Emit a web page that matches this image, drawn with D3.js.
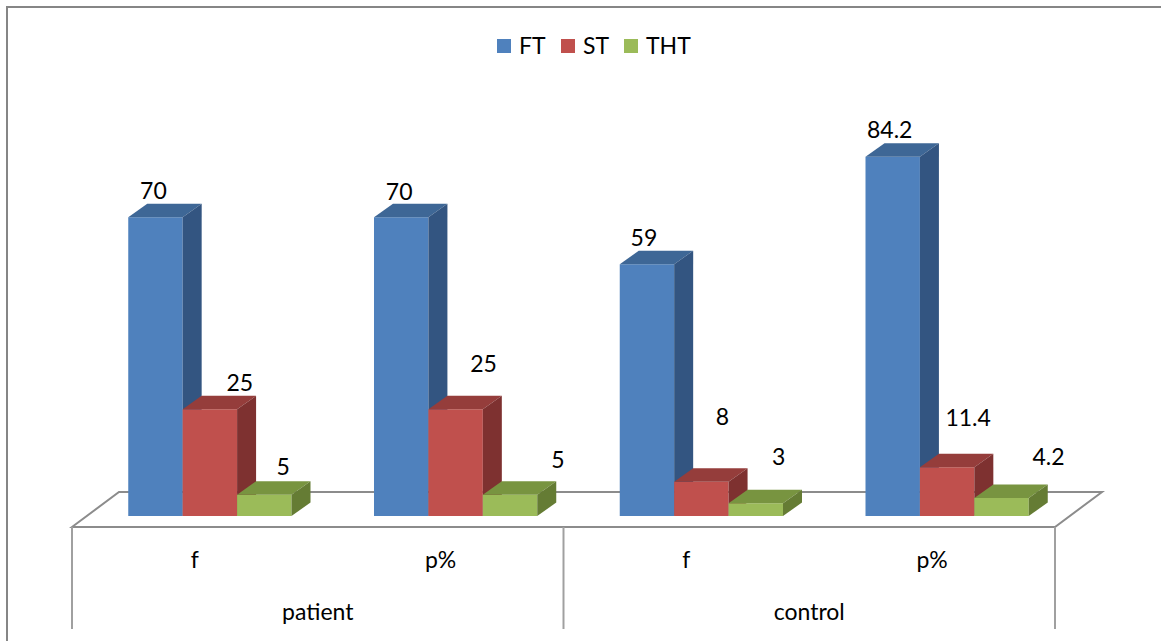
<!DOCTYPE html>
<html lang="en">
  <head>
    <meta charset="utf-8" />
    <title>FT / ST / THT by group</title>
    <script src="https://cdnjs.cloudflare.com/ajax/libs/d3/7.8.5/d3.min.js"></script>
    <style type="text/css">
      body { margin: 0; background: #fff; }
      svg text { font-family: Lato, "Open Sans", sans-serif; fill: #000; }
      .frame { fill: none; stroke: #868686; stroke-width: 2; }
      .floor { fill: none; stroke: #8c8c8c; stroke-width: 2; }
      .sep { stroke: #a0a0a0; stroke-width: 2; }
    </style>
  </head>

  <body>
    <div id="chart"></div>

    <script>
      // Data.
      const groups = ['patient', 'control'];
      const categories = ['f', 'p%', 'f', 'p%'];
      const series = ['FT', 'ST', 'THT'];
      const ftValues = [70, 70, 59, 84.2];
      const stValues = [25, 25, 8, 11.4];
      const thtValues = [5, 5, 3, 4.2];

      const seriesValues = [ftValues, stValues, thtValues];

      // Colours: front, top, side.
      const colors = {
        FT:  ['#4f81bd', '#3e6796', '#335581'],
        ST:  ['#c0504d', '#953d3b', '#7e3130'],
        THT: ['#9bbb59', '#789440', '#657c34']
      };

      // Excel puts the value labels a little irregularly; offsets from the bar's front-top centre.
      const labelOffsets = {
        FT:  [[-2, -27], [-2, -26], [-3, -27], [-3, -27]],
        ST:  [[30, -27], [28, -46], [21, -65], [21, -50]],
        THT: [[19, -28], [48, -35], [23, -46], [47, -41]]
      };

      const width = 1161;
      const height = 641;
      const floorLeft = 72;
      const floorRight = 1055;
      const floorFront = 527;
      const floorDepth = [47, -35];   // floor depth vector
      const barFront = [15, -11];     // bars start this far into the floor
      const barDepth = [19, -13.5];   // bar depth vector

      const svg = d3.select('#chart').append('svg')
        .attr('width', width)
        .attr('height', height);

      // Outer frame (runs off the right and bottom of the picture).
      svg.append('rect')
        .attr('class', 'frame')
        .attr('x', 7).attr('y', 7)
        .attr('width', width).attr('height', height);

      // Scales.
      const x = d3.scaleBand()
        .domain(d3.range(categories.length))
        .range([floorLeft, floorRight]);
      const xs = d3.scaleBand()
        .domain(series)
        .range([0, x.bandwidth()])
        .paddingOuter(0.758);
      const y = d3.scaleLinear()
        .domain([0, 100])
        .range([floorFront, floorFront - 426.7]);

      // Floor outline.
      const floorPts = [
        [floorLeft, floorFront],
        [floorLeft + floorDepth[0], floorFront + floorDepth[1]],
        [floorRight + floorDepth[0], floorFront + floorDepth[1]],
        [floorRight, floorFront]
      ];
      svg.append('path')
        .attr('class', 'floor')
        .attr('d', d3.line()(floorPts) + 'Z');

      // Bars, drawn left to right so neighbours cover the sides.
      const bars = [];
      categories.forEach((c, i) => {
        series.forEach((s, j) => {
          bars.push({ i, s, v: seriesValues[j][i] });
        });
      });

      const poly = pts => d3.line()(pts) + 'Z';

      const barG = svg.append('g').attr('class', 'bars');
      bars.forEach(d => {
        const x0 = x(d.i) + xs(d.s) + barFront[0];
        const x1 = x0 + xs.bandwidth();
        const yb = y(0) + barFront[1];
        const yt = y(d.v) + barFront[1];
        const [dx, dy] = barDepth;
        const col = colors[d.s];
        const g = barG.append('g');
        g.append('path')
          .attr('fill', col[0])
          .attr('d', poly([[x0, yb], [x0, yt], [x1, yt], [x1, yb]]));
        g.append('path')
          .attr('fill', col[1])
          .attr('d', poly([[x0, yt], [x0 + dx, yt + dy], [x1 + dx, yt + dy], [x1, yt]]));
        g.append('path')
          .attr('fill', col[2])
          .attr('d', poly([[x1, yb], [x1, yt], [x1 + dx, yt + dy], [x1 + dx, yb + dy]]));
      });

      // Value labels.
      svg.append('g').selectAll('text')
        .data(bars)
        .join('text')
          .attr('x', d => x(d.i) + xs(d.s) + barFront[0] + xs.bandwidth() / 2 + labelOffsets[d.s][d.i][0])
          .attr('y', d => y(d.v) + barFront[1] + labelOffsets[d.s][d.i][1])
          .attr('dy', '0.36em')
          .attr('text-anchor', 'middle')
          .attr('font-size', 23)
          .text(d => d.v);

      // Multi-level category axis below the floor.
      const sepX = [floorLeft, x(2), floorRight];
      svg.append('g').selectAll('line')
        .data(sepX)
        .join('line')
          .attr('class', 'sep')
          .attr('x1', d => d).attr('x2', d => d)
          .attr('y1', floorFront).attr('y2', 629);

      svg.append('g').selectAll('text')
        .data(categories)
        .join('text')
          .attr('x', (d, i) => x(i) + x.bandwidth() / 2)
          .attr('y', 560)
          .attr('dy', '0.36em')
          .attr('text-anchor', 'middle')
          .attr('font-size', 23)
          .text(d => d);

      svg.append('g').selectAll('text')
        .data(groups)
        .join('text')
          .attr('x', (d, i) => (sepX[i] + sepX[i + 1]) / 2)
          .attr('y', 612)
          .attr('dy', '0.36em')
          .attr('text-anchor', 'middle')
          .attr('font-size', 23)
          .text(d => d);

      // Legend.
      const legendX = [497, 561, 624];
      const legend = svg.append('g').selectAll('g')
        .data(series)
        .join('g')
          .attr('transform', (d, i) => `translate(${legendX[i]}, 39)`);
      legend.append('rect')
        .attr('width', 14).attr('height', 14)
        .attr('fill', d => colors[d][0]);
      legend.append('text')
        .attr('x', 22)
        .attr('y', 7)
        .attr('dy', '0.36em')
        .attr('font-size', 23)
        .text(d => d);
    </script>
  </body>
</html>
